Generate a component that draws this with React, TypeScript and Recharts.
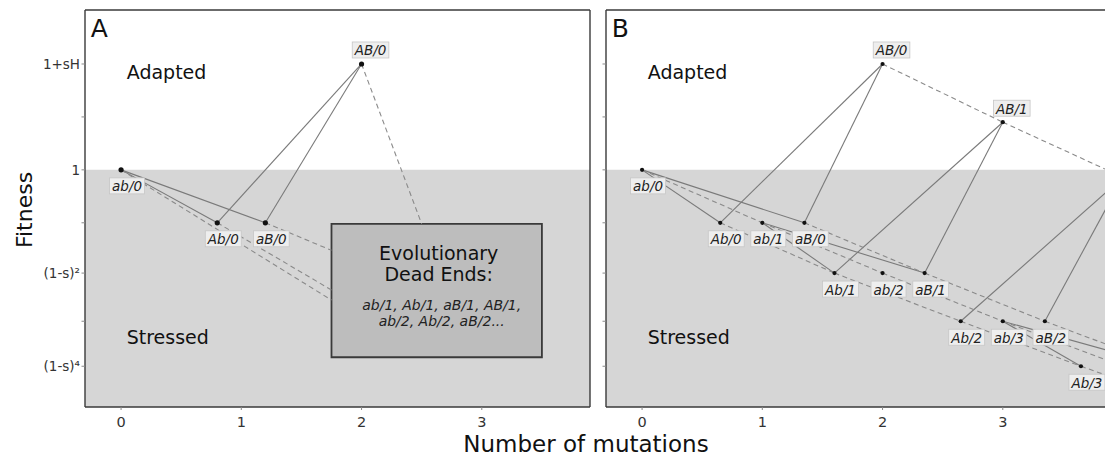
import { ComposedChart, Line, Scatter, XAxis, YAxis, ReferenceArea, ReferenceDot } from "recharts";

type Node = { name: string; x: number; y: number };

const FONT = "DejaVu Sans";
const X_DOMAIN = [-0.3, 3.9];
const Y_DOMAIN = [0.776, 1.151];

const xTicks = [0, 1, 2, 3];
const yTicks = [0.8145, 0.857, 0.9025, 0.95, 1, 1.05, 1.1];
const yTickLabels = ["(1-s)⁴", "", "(1-s)²", "", "1", "", "1+sH"];

// panel A: genotype/number of stress mutations
const nodesA: Node[] = [
    { name: "ab/0", x: 0, y: 1 },
    { name: "Ab/0", x: 0.8, y: 0.95 },
    { name: "aB/0", x: 1.2, y: 0.95 },
    { name: "AB/0", x: 2, y: 1.1 },
];
// where the dashed lines run into the dead end box
const deadEndsA: Node[] = [
    { name: "ab/1", x: 1.75, y: 0.877 },
    { name: "Ab/1", x: 1.75, y: 0.8865 },
    { name: "aB/1", x: 1.75, y: 0.924 },
    { name: "AB/1", x: 2.5, y: 0.949 },
];
const solidA = [["ab/0", "Ab/0"], ["ab/0", "aB/0"], ["Ab/0", "AB/0"], ["aB/0", "AB/0"]];
const dashedA = [["ab/0", "ab/1"], ["Ab/0", "Ab/1"], ["aB/0", "aB/1"], ["AB/0", "AB/1"]];
const deadEndBox = { x1: 1.75, x2: 3.5, y1: 0.823, y2: 0.949 };
const deadEndTitle = ["Evolutionary", "Dead Ends:"];
const deadEndList = ["ab/1, Ab/1, aB/1, AB/1,", "ab/2, Ab/2, aB/2..."];

// panel B
const nodesB: Node[] = [
    { name: "ab/0", x: 0, y: 1 },
    { name: "Ab/0", x: 0.65, y: 0.95 },
    { name: "ab/1", x: 1, y: 0.95 },
    { name: "aB/0", x: 1.35, y: 0.95 },
    { name: "AB/0", x: 2, y: 1.1 },
    { name: "Ab/1", x: 1.6, y: 0.9025 },
    { name: "ab/2", x: 2, y: 0.9025 },
    { name: "aB/1", x: 2.35, y: 0.9025 },
    { name: "AB/1", x: 3, y: 1.045 },
    { name: "Ab/2", x: 2.65, y: 0.857 },
    { name: "ab/3", x: 3, y: 0.857 },
    { name: "aB/2", x: 3.35, y: 0.857 },
    { name: "Ab/3", x: 3.65, y: 0.8145 },
];
// beyond the right edge of the panel
const offscreenB: Node[] = [
    { name: "AB/2", x: 4, y: 0.993 },
    { name: "aB/3", x: 4.35, y: 0.8145 },
    { name: "ab/4", x: 4, y: 0.8145 },
    { name: "Ab/4", x: 4.65, y: 0.774 },
];
const solidB = [
    ["ab/0", "Ab/0"], ["ab/0", "aB/0"], ["Ab/0", "AB/0"], ["aB/0", "AB/0"],
    ["ab/1", "Ab/1"], ["ab/1", "aB/1"], ["Ab/1", "AB/1"], ["aB/1", "AB/1"],
    ["Ab/2", "AB/2"], ["aB/2", "AB/2"], ["ab/3", "Ab/3"], ["ab/3", "aB/3"],
];
const dashedB = [
    ["ab/0", "ab/1"], ["Ab/0", "Ab/1"], ["aB/0", "aB/1"], ["AB/0", "AB/1"],
    ["ab/1", "ab/2"], ["Ab/1", "Ab/2"], ["aB/1", "aB/2"], ["AB/1", "AB/2"],
    ["ab/2", "ab/3"], ["Ab/2", "Ab/3"], ["aB/2", "aB/3"], ["ab/3", "ab/4"], ["Ab/3", "Ab/4"],
];

const charW: Record<string, number> = { a: 0.613, b: 0.635, A: 0.684, B: 0.686, "/": 0.337 };
const textW = (s: string, size: number) =>
    s.split("").reduce((acc, c) => acc + (charW[c] ?? 0.636), 0) * size;

const frame = { stroke: "#3a3a3a", strokeWidth: 1.4 };
const tickLine = { stroke: "#8a8a8a" };

function NodeMark(props: any) {
    const { cx, cy, payload, r } = props;
    const above = payload.y > 1;
    const lx = cx + (above ? 9 : 6);
    const ly = cy + (above ? -14 : 16);
    const w = textW(payload.name, 13.5) + 5;
    return (
        <g>
            <circle cx={cx} cy={cy} r={r} fill="#111" />
            <rect x={lx - w / 2} y={ly - 8} width={w} height={16} fill="#eeeeee" stroke="#c6c6c6" strokeWidth={0.8} />
            <text x={lx} y={ly + 5.5} textAnchor="middle" fontFamily={FONT} fontStyle="italic" fontSize={13.5} fill="#222">
                {payload.name}
            </text>
        </g>
    );
}

function Note({ cx, cy, text, size, anchor }: any) {
    return (
        <text x={cx} y={cy} fontFamily={FONT} fontSize={size} fill="#111" textAnchor={anchor ?? "start"}>
            {text}
        </text>
    );
}

function Panel({ letter, nodes, hidden, solid, dashed, dotR, showLabels, children }: any) {
    const all: Node[] = [...nodes, ...hidden];
    const find = (n: string) => all.find((p) => p.name === n)!;
    const yLabel = (v: number) => {
        if (!showLabels) return "";
        const i = yTicks.findIndex((t) => Math.abs(t - v) < 1e-6);
        return i >= 0 ? yTickLabels[i] : "";
    };
    return (
        <ComposedChart width={600} height={456} margin={{ top: 0, right: 0, bottom: 0, left: 0 }}>
            <XAxis
                dataKey="x" type="number" domain={X_DOMAIN} allowDataOverflow ticks={xTicks} interval={0}
                height={49} tickSize={3} tickMargin={7} axisLine={frame} tickLine={tickLine}
                tick={{ fontSize: 14.5, fill: "#333", fontFamily: FONT }}
            />
            <XAxis
                xAxisId="top" orientation="top" type="number" domain={X_DOMAIN} allowDataOverflow ticks={xTicks}
                interval={0} height={10} tickSize={4} axisLine={frame} tickLine={tickLine} tick={false}
            />
            <YAxis
                dataKey="y" type="number" domain={Y_DOMAIN} allowDataOverflow ticks={yTicks} interval={0}
                width={85} tickSize={3.5} tickMargin={1.5} axisLine={frame} tickLine={tickLine}
                tickFormatter={yLabel} tick={{ fontSize: 13.5, fill: "#333", fontFamily: FONT }}
            />
            <YAxis
                yAxisId="right" orientation="right" type="number" domain={Y_DOMAIN} allowDataOverflow ticks={yTicks}
                interval={0} width={10} tickSize={4} axisLine={frame} tickLine={tickLine} tick={false}
            />
            <ReferenceArea y1={Y_DOMAIN[0]} y2={1} fill="#d6d6d6" fillOpacity={1} stroke="none" />

            {solid.map(([a, b]: string[], i: number) => (
                <Line key={"s" + i} data={[find(a), find(b)]} dataKey="y" type="linear" stroke="#7a7a7a"
                    strokeWidth={1.1} dot={false} activeDot={false} isAnimationActive={false} legendType="none" />
            ))}
            {dashed.map(([a, b]: string[], i: number) => (
                <Line key={"d" + i} data={[find(a), find(b)]} dataKey="y" type="linear" stroke="#8a8a8a"
                    strokeWidth={1.1} strokeDasharray="5 3.5" dot={false} activeDot={false}
                    isAnimationActive={false} legendType="none" />
            ))}

            {children}

            <Scatter data={nodes} dataKey="y" isAnimationActive={false} shape={(p: any) => <NodeMark {...p} r={dotR} />} />

            <ReferenceDot x={-0.2526} y={1.1258} r={0} shape={(p: any) => <Note {...p} text={letter} size={25} />} />
            <ReferenceDot x={0.047} y={1.0858} r={0} shape={(p: any) => <Note {...p} text="Adapted" size={19} />} />
            <ReferenceDot x={0.047} y={0.8355} r={0} shape={(p: any) => <Note {...p} text="Stressed" size={19} />} />
        </ComposedChart>
    );
}

function DeadEndText({ cx, cy }: any) {
    return (
        <g fontFamily={FONT} textAnchor="middle">
            {deadEndTitle.map((t, i) => (
                <text key={t} x={cx + 2} y={cy - 30.5 + i * 21} fontSize={19} fill="#111">{t}</text>
            ))}
            {deadEndList.map((t, i) => (
                <text key={t} x={cx + 5} y={cy + 19.5 + i * 16} fontSize={14} fontStyle="italic" fill="#222">{t}</text>
            ))}
        </g>
    );
}

export default function App() {
    return (
        <div style={{ position: "absolute", left: 0, top: 0, width: 1105, height: 456, overflow: "hidden", background: "#fff" }}>
            <div style={{ position: "absolute", left: 0, top: 0 }}>
                <Panel letter="A" nodes={nodesA} hidden={deadEndsA} solid={solidA} dashed={dashedA} dotR={2.6} showLabels>
                    <ReferenceArea x1={deadEndBox.x1} x2={deadEndBox.x2} y1={deadEndBox.y1} y2={deadEndBox.y2}
                        fill="#bdbdbd" fillOpacity={1} stroke="#3a3a3a" strokeWidth={1.8} />
                    <ReferenceDot x={(deadEndBox.x1 + deadEndBox.x2) / 2} y={(deadEndBox.y1 + deadEndBox.y2) / 2} r={0}
                        shape={(p: any) => <DeadEndText {...p} />} />
                </Panel>
            </div>
            <div style={{ position: "absolute", left: 521, top: 0 }}>
                <Panel letter="B" nodes={nodesB} hidden={offscreenB} solid={solidB} dashed={dashedB} dotR={2.1} showLabels={false} />
            </div>
            <svg width={1105} height={456} style={{ position: "absolute", left: 0, top: 0, pointerEvents: "none" }}>
                <text transform="translate(31.5,210) rotate(-90)" textAnchor="middle" fontFamily={FONT} fontSize={22} fill="#111">
                    Fitness
                </text>
                <text x={586} y={452} textAnchor="middle" fontFamily={FONT} fontSize={23} fill="#111">
                    Number of mutations
                </text>
            </svg>
        </div>
    );
}
